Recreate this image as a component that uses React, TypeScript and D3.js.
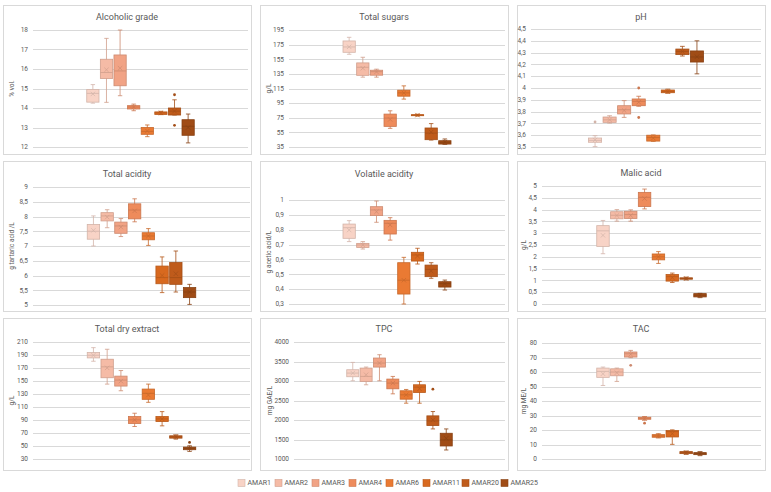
import React, { useEffect, useRef } from "react";
import * as d3 from "d3";

const series = ["AMAR1", "AMAR2", "AMAR3", "AMAR4", "AMAR6", "AMAR11", "AMAR20", "AMAR25"];
const seriesColors = ["#F8D3C6", "#F5BBA6", "#F1A385", "#EE8B5B", "#EA7A33", "#D8691F", "#BF5B1B", "#A04C16"];

// each row: [min, q1, median, q3, max, mean], one row per series
const alcoholicGrade = [
  [14.25, 14.3, 14.75, 14.95, 15.2, 14.72],
  [14.29, 15.51, 15.82, 16.5, 17.57, 15.96],
  [14.63, 15.14, 15.9, 16.72, 18.0, 16.04],
  [13.86, 13.95, 14.05, 14.12, 14.2, 14.05],
  [12.53, 12.65, 12.8, 13.0, 13.13, 12.82],
  [13.66, 13.67, 13.75, 13.8, 13.83, 13.75],
  [13.64, 13.64, 13.84, 14.0, 14.42, 13.84],
  [12.21, 12.6, 13.06, 13.4, 13.69, 13.0],
];
const alcoholicGradeOutliers = [[], [], [], [], [], [], [14.68, 13.11], []];

const totalSugars = [
  [161.8, 164.5, 171.8, 180, 185, 172],
  [130.5, 133, 144, 150, 157.7, 142.7],
  [130.5, 133.2, 138, 140, 141.4, 137.7],
  [60.5, 63.2, 74.5, 80, 84.5, 72.7],
  [100.5, 104.5, 109, 112.7, 118.6, 109],
  [77.3, 77.8, 78.6, 79.2, 79.8, 78.6],
  [44.5, 45, 54, 61, 67, 55.4],
  [38.6, 39, 41.4, 43.6, 46, 41.8],
];
const totalSugarsOutliers = [[], [], [], [], [], [], [], []];

const pH = [
  [3.503, 3.54, 3.556, 3.576, 3.596, 3.56],
  [3.703, 3.709, 3.73, 3.754, 3.765, 3.73],
  [3.751, 3.78, 3.816, 3.85, 3.893, 3.81],
  [3.845, 3.85, 3.887, 3.907, 3.93, 3.88],
  [3.548, 3.55, 3.58, 3.6, 3.602, 3.575],
  [3.955, 3.96, 3.97, 3.983, 3.99, 3.97],
  [4.271, 4.283, 4.31, 4.33, 4.353, 4.31],
  [4.12, 4.22, 4.263, 4.314, 4.4, 4.265],
];
const pHOutliers = [[3.712], [], [], [4.0, 3.75], [], [], [], []];

const totalAcidity = [
  [7.0, 7.23, 7.5, 7.73, 8.02, 7.53],
  [7.62, 7.85, 8.02, 8.13, 8.23, 7.98],
  [7.32, 7.43, 7.68, 7.81, 7.93, 7.64],
  [7.82, 7.92, 8.22, 8.43, 8.6, 8.19],
  [7.02, 7.21, 7.34, 7.45, 7.59, 7.34],
  [5.42, 5.72, 5.93, 6.32, 6.63, 6.0],
  [5.44, 5.7, 5.93, 6.44, 6.83, 6.06],
  [5.02, 5.25, 5.44, 5.59, 5.7, 5.44],
];
const totalAcidityOutliers = [[], [], [], [], [], [], [], []];

const volatileAcidity = [
  [0.72, 0.742, 0.814, 0.838, 0.861, 0.798],
  [0.67, 0.681, 0.697, 0.708, 0.72, 0.697],
  [0.85, 0.895, 0.933, 0.955, 0.993, 0.921],
  [0.73, 0.771, 0.843, 0.863, 0.881, 0.832],
  [0.3, 0.367, 0.46, 0.578, 0.614, 0.46],
  [0.569, 0.589, 0.63, 0.648, 0.675, 0.623],
  [0.473, 0.484, 0.533, 0.562, 0.578, 0.522],
  [0.394, 0.414, 0.437, 0.45, 0.461, 0.437],
];
const volatileAcidityOutliers = [[], [], [], [], [], [], [], []];

const malicAcid = [
  [2.13, 2.44, 3.1, 3.32, 3.54, 2.91],
  [3.51, 3.61, 3.76, 3.91, 4.0, 3.75],
  [3.51, 3.62, 3.79, 3.93, 3.99, 3.75],
  [4.03, 4.13, 4.52, 4.73, 4.87, 4.47],
  [1.72, 1.87, 2.0, 2.12, 2.22, 2.0],
  [0.91, 0.97, 1.16, 1.25, 1.31, 1.12],
  [1.02, 1.05, 1.08, 1.11, 1.14, 1.08],
  [0.27, 0.3, 0.37, 0.44, 0.45, 0.37],
];
const malicAcidOutliers = [[], [], [], [], [], [], [], []];

const dryExtract = [
  [180.4, 185.5, 189.6, 193.7, 201.3, 189.6],
  [145.2, 155, 171.8, 183.5, 198.8, 170.2],
  [135, 142.2, 151.4, 157.5, 166.1, 149.8],
  [80, 84.6, 90.2, 95.3, 100.4, 90.2],
  [117.2, 121.8, 131, 137.6, 145.2, 128.4],
  [81, 87.6, 91.7, 95.3, 102.9, 91.7],
  [60.6, 62.1, 64.2, 65.7, 67.2, 64.2],
  [41.7, 44.3, 46.3, 48.3, 50.4, 46.5],
];
const dryExtractOutliers = [[], [], [], [], [], [], [], [55.5]];

const tpc = [
  [3006, 3109, 3203, 3289, 3477, 3203],
  [2903, 2989, 3117, 3331, 3357, 3160],
  [3006, 3357, 3460, 3589, 3674, 3460],
  [2671, 2800, 2946, 3049, 3117, 2946],
  [2431, 2534, 2646, 2749, 2783, 2646],
  [2431, 2706, 2843, 2903, 2989, 2800],
  [1771, 1857, 1977, 2106, 2217, 2003],
  [1231, 1334, 1489, 1660, 1771, 1531],
];
const tpcOutliers = [[], [], [], [], [], [], [2791], []];

const tac = [
  [50.7, 56.3, 60.4, 62.7, 63.4, 58.8],
  [53.5, 57.4, 60, 62.2, 62.7, 59.5],
  [69.9, 70.3, 72.6, 73.8, 74.9, 72.2],
  [26.7, 27.4, 28.1, 28.8, 29.3, 28],
  [14.5, 15.0, 15.9, 16.8, 17.5, 15.9],
  [10.1, 15.2, 18.9, 19.6, 20.1, 17.5],
  [3.2, 3.7, 4.4, 5.1, 5.5, 4.4],
  [2.3, 3.0, 3.7, 4.4, 5.1, 3.7],
];
const tacOutliers = [[], [], [64.6], [24.7], [], [], [], []];

const panels = [
  { title: "Alcoholic grade", unit: "% vol.", domain: [12, 18], step: 1, stats: alcoholicGrade, outliers: alcoholicGradeOutliers },
  { title: "Total sugars", unit: "g/L", domain: [35, 195], step: 20, stats: totalSugars, outliers: totalSugarsOutliers },
  { title: "pH", unit: "", domain: [3.5, 4.5], step: 0.1, stats: pH, outliers: pHOutliers },
  { title: "Total acidity", unit: "g tartaric acid /L", domain: [5, 9], step: 0.5, stats: totalAcidity, outliers: totalAcidityOutliers },
  { title: "Volatile acidity", unit: "g acetic acid/L", domain: [0.3, 1], step: 0.1, stats: volatileAcidity, outliers: volatileAcidityOutliers },
  { title: "Malic acid", unit: "g/L", domain: [0, 5], step: 0.5, stats: malicAcid, outliers: malicAcidOutliers },
  { title: "Total dry extract", unit: "g/L", domain: [30, 210], step: 20, stats: dryExtract, outliers: dryExtractOutliers },
  { title: "TPC", unit: "mg GAE/L", domain: [1000, 4000], step: 500, stats: tpc, outliers: tpcOutliers },
  { title: "TAC", unit: "mg ME/L", domain: [0, 80], step: 10, stats: tac, outliers: tacOutliers },
];

// frame [x, y, w, h], plot [left, right, top, bottom], title y, unit x
const layout = [
  { frame: [3, 5, 248, 149], plot: [33, 248, 30, 147], titleY: 17, unitX: 12 },
  { frame: [260, 5, 248, 149], plot: [289, 505, 30, 147], titleY: 17, unitX: 269 },
  { frame: [517, 5, 248, 149], plot: [531, 761, 29, 147], titleY: 17, unitX: 0 },
  { frame: [3, 161, 248, 150], plot: [33, 250, 187, 305], titleY: 174, unitX: 12 },
  { frame: [260, 161, 248, 150], plot: [289, 505, 200, 304], titleY: 174, unitX: 269 },
  { frame: [517, 161, 248, 150], plot: [542, 761, 186, 304], titleY: 173, unitX: 524 },
  { frame: [3, 318, 248, 152], plot: [33, 250, 342, 459], titleY: 329, unitX: 12 },
  { frame: [260, 318, 248, 152], plot: [294, 505, 342, 459], titleY: 329, unitX: 270 },
  { frame: [517, 318, 248, 152], plot: [542, 761, 343, 459], titleY: 329, unitX: 524 },
];

const FONT = "Roboto, 'Open Sans', sans-serif";
const fmt = (v: number) => String(+v.toFixed(2)).replace(".", ",");

const App: React.FC = () => {
  const svgRef = useRef<SVGSVGElement | null>(null);

  useEffect(() => {
    if (!svgRef.current) return;
    const svg = d3.select(svgRef.current);
    svg.selectAll("*").remove();

    svg.append("rect").attr("width", 771).attr("height", 492).attr("fill", "#ffffff");

    panels.forEach((p, pi) => {
      const lay = layout[pi];
      const [fx, fy, fw, fh] = lay.frame;
      const [left, right, top, bottom] = lay.plot;
      const g = svg.append("g");

      g.append("rect")
        .attr("x", fx + 0.5)
        .attr("y", fy + 0.5)
        .attr("width", fw)
        .attr("height", fh)
        .attr("fill", "#ffffff")
        .attr("stroke", "#d9d9d9");

      g.append("text")
        .attr("x", fx + fw / 2)
        .attr("y", lay.titleY)
        .attr("dy", "0.35em")
        .attr("text-anchor", "middle")
        .attr("font-family", FONT)
        .attr("font-size", "9px")
        .attr("fill", "#595959")
        .text(p.title);

      const y = d3.scaleLinear().domain(p.domain).range([bottom, top]);
      const ticks = d3.range(p.domain[0], p.domain[1] + p.step / 2, p.step);

      g.selectAll(".grid")
        .data(ticks)
        .join("line")
        .attr("x1", left)
        .attr("x2", right)
        .attr("y1", (d) => Math.round(y(d)) + 0.5)
        .attr("y2", (d) => Math.round(y(d)) + 0.5)
        .attr("stroke", "#d9d9d9")
        .attr("stroke-width", 1);

      g.selectAll(".tick")
        .data(ticks)
        .join("text")
        .attr("x", left - 5)
        .attr("y", (d) => y(d))
        .attr("dy", "0.35em")
        .attr("text-anchor", "end")
        .attr("font-family", FONT)
        .attr("font-size", "6.5px")
        .attr("fill", "#595959")
        .text((d) => fmt(d));

      if (p.unit) {
        g.append("text")
          .attr("transform", `translate(${lay.unitX},${(top + bottom) / 2}) rotate(-90)`)
          .attr("dy", "0.35em")
          .attr("text-anchor", "middle")
          .attr("font-family", FONT)
          .attr("font-size", "6.5px")
          .attr("fill", "#595959")
          .text(p.unit);
      }

      const mid = (left + right) / 2;
      const half = (right - left) / 4;
      const x = d3.scaleBand<string>().domain(series).range([mid - half, mid + half]).paddingInner(0.1);
      const bw = x.bandwidth();

      series.forEach((s, si) => {
        const [lo, q1, med, q3, hi, mean] = p.stats[si];
        const fill = seriesColors[si];
        const dark = d3.color(fill)!.darker(0.45).formatHex();
        const x0 = x(s) || 0;
        const cx = x0 + bw / 2;
        const sg = g.append("g");

        sg.append("line")
          .attr("x1", cx).attr("x2", cx)
          .attr("y1", y(hi)).attr("y2", y(lo))
          .attr("stroke", dark).attr("stroke-width", 0.8);
        [lo, hi].forEach((v) => {
          sg.append("line")
            .attr("x1", cx - bw * 0.18).attr("x2", cx + bw * 0.18)
            .attr("y1", y(v)).attr("y2", y(v))
            .attr("stroke", dark).attr("stroke-width", 0.8);
        });

        sg.append("rect")
          .attr("x", x0)
          .attr("y", y(q3))
          .attr("width", bw)
          .attr("height", Math.max(1, y(q1) - y(q3)))
          .attr("fill", fill)
          .attr("stroke", dark)
          .attr("stroke-width", 0.8);

        sg.append("line")
          .attr("x1", x0).attr("x2", x0 + bw)
          .attr("y1", y(med)).attr("y2", y(med))
          .attr("stroke", dark).attr("stroke-width", 0.8);

        const my = y(mean);
        const m = 2.2;
        sg.append("path")
          .attr("d", `M${cx - m},${my - m}L${cx + m},${my + m}M${cx - m},${my + m}L${cx + m},${my - m}`)
          .attr("stroke", dark)
          .attr("stroke-width", 0.7)
          .attr("fill", "none");

        sg.selectAll("circle")
          .data(p.outliers[si])
          .join("circle")
          .attr("cx", cx)
          .attr("cy", (d) => y(d))
          .attr("r", 1.4)
          .attr("fill", dark);
      });
    });

    // legend
    const legend = svg.append("g").attr("transform", "translate(238,483)");
    let lx = 0;
    series.forEach((s, i) => {
      const item = legend.append("g").attr("transform", `translate(${lx},0)`);
      item.append("rect")
        .attr("x", 0).attr("y", -3.5)
        .attr("width", 7).attr("height", 7)
        .attr("fill", seriesColors[i])
        .attr("stroke", d3.color(seriesColors[i])!.darker(0.45).formatHex())
        .attr("stroke-width", 0.6);
      item.append("text")
        .attr("x", 9.5).attr("y", 0)
        .attr("dy", "0.35em")
        .attr("font-family", FONT)
        .attr("font-size", "7px")
        .attr("fill", "#595959")
        .text(s);
      lx += 27 + s.length * 2;
    });
  }, []);

  return (
    <svg
      ref={svgRef}
      width={771}
      height={492}
      style={{ position: "absolute", left: 0, top: 0 }}
    ></svg>
  );
};

export default App;
